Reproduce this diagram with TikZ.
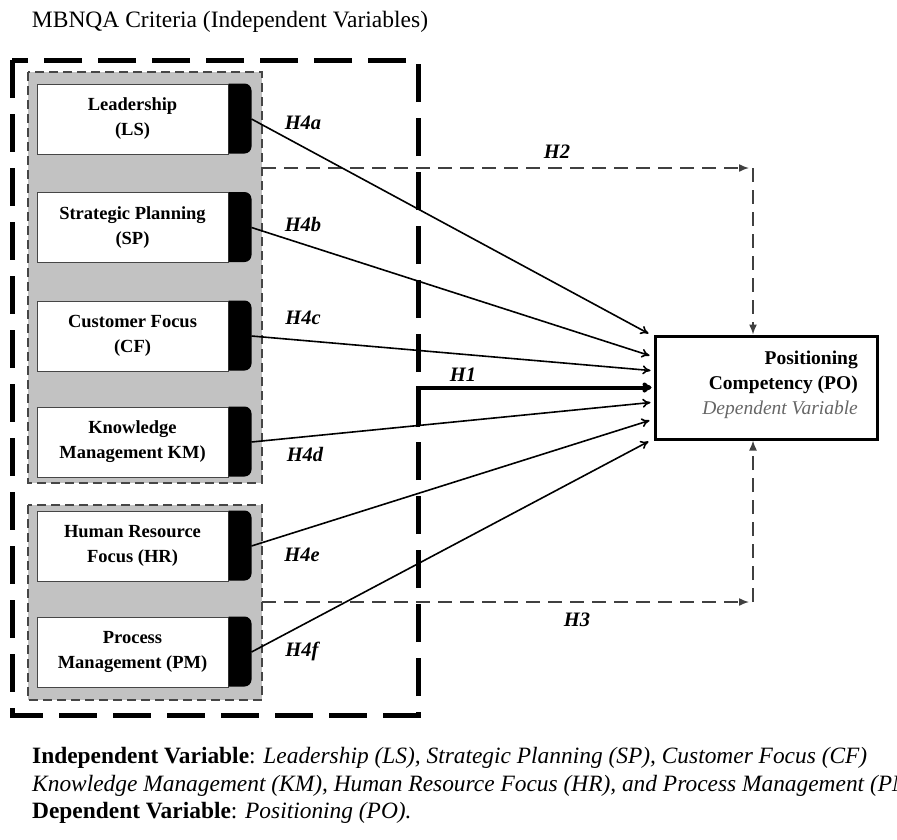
\documentclass[tikz,border=0pt]{standalone}
\usepackage{fontspec}
\setmainfont{Liberation Serif}
\usetikzlibrary{arrows.meta,calc}
\definecolor{panelgray}{RGB}{194,194,194}
\definecolor{rimgray}{RGB}{70,70,70}
\tikzset{
  crit/.style={draw=rimgray, line width=1pt, fill=white, minimum width=191pt,
    minimum height=70pt, inner sep=0pt, align=center,
    font=\fontsize{18.5}{25}\selectfont\bfseries},
  grp/.style={draw=rimgray, fill=panelgray, line width=1.8pt, dash pattern=on 9pt off 5pt},
  outerbox/.style={draw=black, line width=5pt, dash pattern=on 38pt off 16pt},
  hlabel/.style={font=\fontsize{20.5}{24}\selectfont\bfseries\itshape, inner sep=0pt},
  link/.style={line width=1.6pt, -{To[length=8pt,width=9pt]}},
  dlink/.style={line width=1.5pt, draw=black!75, dash pattern=on 14pt off 8pt,
    -{Latex[length=10pt,width=8pt]}},
  tabfill/.style={fill=black, rounded corners=7pt},
  legend/.style={anchor=base west, inner sep=0pt, font=\fontsize{23.4}{28}\selectfont},
}
% black tab on the right side of a criterion box, plus its outgoing anchor
\newcommand{\critTab}[1]{%
  \begin{scope}
    \clip (#1.north east) rectangle ([xshift=30pt]#1.south east);
    \fill[tabfill] ([xshift=-10pt]#1.north east) -- ++(33,0) -- ++(0,70) -- ++(-33,0) -- cycle;
  \end{scope}
  \coordinate (#1-o) at ([xshift=23pt]#1.east);}
\begin{document}
\begin{tikzpicture}[x=1pt,y=-1pt]
\useasboundingbox (0,0) rectangle (897,839);

% title
\node[font=\fontsize{23.5}{28}\selectfont, inner sep=0pt] (title) at (230,22)
  {MBNQA Criteria (Independent Variables)};

% grey panels holding the criteria
\draw[grp] (28,72) rectangle (262,483);
\draw[grp] (28,505) rectangle (262,700);

% outer dashed frame
\draw[outerbox] (12,60) rectangle (418,715);

% criteria boxes
\node[crit] (ls) at (132.5,119)   {Leadership\\(LS)};
\node[crit] (sp) at (132.5,227.5) {Strategic Planning\\(SP)};
\node[crit] (cf) at (132.5,336)   {Customer Focus\\(CF)};
\node[crit] (km) at (132.5,442)   {Knowledge\\Management KM)};
\node[crit] (hr) at (132.5,546)   {Human Resource\\Focus (HR)};
\node[crit] (pm) at (132.5,652)   {Process\\Management (PM)};
\critTab{ls}\critTab{sp}\critTab{cf}\critTab{km}\critTab{hr}\critTab{pm}

% dependent variable
\node[draw, line width=3pt, minimum width=222pt, minimum height=103pt, inner sep=0pt]
  (po) at (766,387.5) {};
\node[anchor=east, inner sep=0pt, align=right, font=\fontsize{19.5}{25}\selectfont\bfseries]
  (pot) at (858,385) {Positioning\\Competency (PO)\\{\mdseries\itshape\color{black!60}Dependent Variable}};

% H2 and H3 dashed paths
\coordinate (h2s) at (262,168);
\coordinate (h2c) at (753,168);
\coordinate (h3s) at (262,602);
\coordinate (h3c) at (753,602);
\draw[dlink] (h2s) -- ([xshift=-4pt]h2c);
\draw[dlink] (h2c) -- (h2c |- po.north);
\draw[dlink] (h3s) -- ([xshift=-4pt]h3c);
\draw[dlink] (h3c) -- (h3c |- po.south);

% H4 links
\draw[link] (ls-o) -- ([xshift=-5pt,yshift=54pt]po.west);
\draw[link] (sp-o) -- ([xshift=-4pt,yshift=32pt]po.west);
\draw[link] (cf-o) -- ([xshift=-3pt,yshift=17pt]po.west);
\draw[link] (km-o) -- ([xshift=-3pt,yshift=-15pt]po.west);
\draw[link] (hr-o) -- ([xshift=-4pt,yshift=-33pt]po.west);
\draw[link] (pm-o) -- ([xshift=-5pt,yshift=-54pt]po.west);

% H1 link
\coordinate (h1s) at (418,427);
\draw[line width=4pt, -{To[length=9pt,width=10pt]}] (h1s) |- ([xshift=-2pt]po.west);

% hypothesis labels
\node[hlabel] (l4a) at (303,123) {H4a};
\node[hlabel] (l4b) at (303,224) {H4b};
\node[hlabel] (l4c) at (303,318) {H4c};
\node[hlabel] (l4d) at (305,454) {H4d};
\node[hlabel] (l4e) at (302,555) {H4e};
\node[hlabel] (l4f) at (302,651) {H4f};
\node[hlabel] (l1)  at (463,375) {H1};
\node[hlabel] (l2)  at (557,152) {H2};
\node[hlabel] (l3)  at (577,620) {H3};

% legend
\node[legend] (ivar) at (32,763)
  {\textbf{Independent Variable}: \textit{Leadership (LS), Strategic Planning (SP), Customer Focus (CF)}};
\node[legend, font=\fontsize{23.4}{28}\selectfont\itshape] (ivar2) at (32,791)
  {Knowledge Management (KM), Human Resource Focus (HR), and Process Management (PM).};
\node[legend] (dvar) at (32,818)
  {\textbf{Dependent Variable}: \textit{Positioning (PO).}};
\end{tikzpicture}
\end{document}
